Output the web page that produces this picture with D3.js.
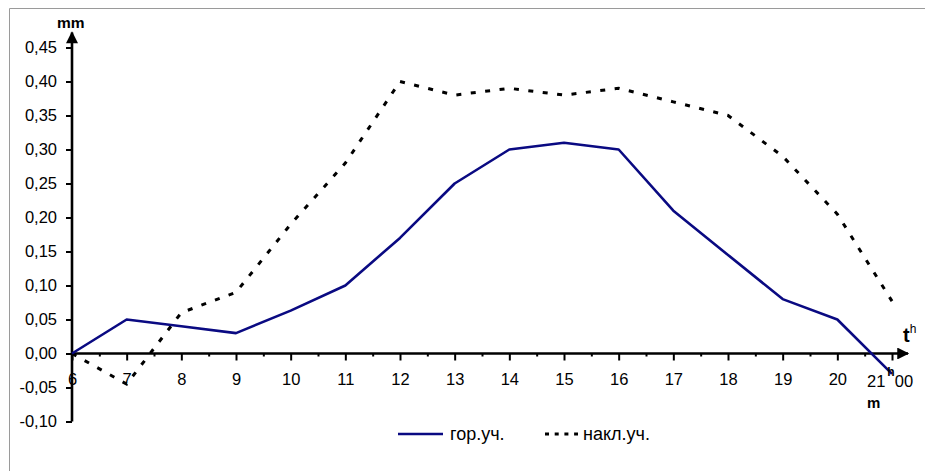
<!DOCTYPE html>
<html>
<head>
<meta charset="utf-8">
<script src="https://cdn.jsdelivr.net/npm/d3@7/dist/d3.min.js"></script>
<style>
  html, body { margin: 0; padding: 0; background: #fff; }
  svg { display: block; font-family: "Liberation Sans", Arial, sans-serif; }
</style>
</head>
<body>
<svg id="chart" width="925" height="471"></svg>
<script>
// Hours of the day (category axis) and measured displacements, mm
const hours = [6, 7, 8, 9, 10, 11, 12, 13, 14, 15, 16, 17, 18, 19, 20, 21];
const gorUch = [0.00, 0.05, 0.04, 0.03, 0.063, 0.10, 0.17, 0.25, 0.30, 0.31, 0.30, 0.21, 0.145, 0.08, 0.05, -0.03];
const naklUch = [0.00, -0.045, 0.06, 0.09, 0.19, 0.28, 0.40, 0.38, 0.39, 0.38, 0.39, 0.37, 0.35, 0.29, 0.205, 0.077];
const yTicks = [-0.10, -0.05, 0.00, 0.05, 0.10, 0.15, 0.20, 0.25, 0.30, 0.35, 0.40, 0.45];
const seriesNames = ["гор.уч.", "накл.уч."];

const svg = d3.select("#chart");
const x = d3.scaleLinear().domain([6, 21]).range([72, 892]);
const y = d3.scaleLinear().domain([-0.10, 0.45]).range([421.5, 47.5]);

const ruFmt = d3.formatLocale({ decimal: ",", thousands: " ", grouping: [3], currency: ["", ""], minus: "-" }).format(".2f");

// outer frame
svg.append("path")
  .attr("d", "M9.5,471V8.5H925")
  .attr("fill", "none").attr("stroke", "#9a9a9a").attr("stroke-width", 1);

// arrow heads
const defs = svg.append("defs");
defs.append("marker").attr("id", "arrow")
  .attr("viewBox", "0 0 10 10").attr("refX", 9).attr("refY", 5)
  .attr("markerWidth", 5.6).attr("markerHeight", 4.6).attr("markerUnits", "strokeWidth")
  .attr("orient", "auto")
  .append("path").attr("d", "M0,0L10,5L0,10Z").attr("fill", "#000");

// y axis
const yAxis = svg.append("g").attr("transform", `translate(${x(6)},0)`)
  .call(d3.axisLeft(y).tickValues(yTicks).tickSize(6).tickSizeOuter(0).tickPadding(9).tickFormat(ruFmt));
yAxis.select(".domain").remove();
yAxis.selectAll(".tick line").attr("stroke", "#000").attr("stroke-width", 2);
yAxis.selectAll(".tick text").attr("font-size", 16.5).attr("fill", "#000")
  .attr("font-family", "Liberation Sans, Arial, sans-serif");

// x axis: major ticks with labels, minor ticks on the half hours
const xMain = hours.slice(0, -1);
const xAxis = svg.append("g").attr("transform", `translate(0,${y(0)})`)
  .call(d3.axisBottom(x).tickValues(hours).tickSize(7).tickSizeOuter(0).tickPadding(13)
    .tickFormat(d => xMain.includes(d) ? String(d) : ""));
xAxis.select(".domain").remove();
xAxis.selectAll(".tick line").attr("stroke", "#000").attr("stroke-width", 2);
xAxis.selectAll(".tick text").attr("font-size", 16.5).attr("fill", "#000")
  .attr("font-family", "Liberation Sans, Arial, sans-serif");

const xMinor = svg.append("g").attr("transform", `translate(0,${y(0)})`)
  .call(d3.axisBottom(x).tickValues(d3.range(6.5, 21, 1)).tickSize(3).tickSizeOuter(0).tickFormat(""));
xMinor.select(".domain").remove();
xMinor.selectAll(".tick line").attr("stroke", "#000").attr("stroke-width", 2);

// axis lines with arrows
svg.append("line")
  .attr("x1", x(6)).attr("y1", y(0)).attr("x2", x(21) + 16).attr("y2", y(0))
  .attr("stroke", "#000").attr("stroke-width", 2.6).attr("marker-end", "url(#arrow)");
svg.append("line")
  .attr("x1", x(6)).attr("y1", y(-0.10)).attr("x2", x(6)).attr("y2", y(0.45) - 15)
  .attr("stroke", "#000").attr("stroke-width", 2.6).attr("marker-end", "url(#arrow)");

// series lines
const line = d3.line().x((d, i) => x(hours[i])).y(d => y(d));
svg.append("path").datum(naklUch)
  .attr("d", line).attr("fill", "none").attr("stroke", "#000")
  .attr("stroke-width", 3).attr("stroke-dasharray", "5 9.5");
svg.append("path").datum(gorUch)
  .attr("d", line).attr("fill", "none").attr("stroke", "#0a0a82")
  .attr("stroke-width", 2.6).attr("stroke-linejoin", "round");

// axis captions
svg.append("text").attr("x", 57).attr("y", 28).attr("font-size", 15.5).attr("font-weight", "bold").text("mm");
const tCap = svg.append("text").attr("x", 903).attr("y", 342).attr("font-size", 20).attr("font-weight", "bold");
tCap.append("tspan").text("t");
tCap.append("tspan").attr("font-size", 12).attr("font-weight", "normal").attr("dy", -9).text("h");

const endLabel = svg.append("text").attr("x", 867).attr("y", 387).attr("font-size", 16.5);
endLabel.append("tspan").text(String(hours[hours.length - 1]));
endLabel.append("tspan").attr("font-size", 12).attr("font-weight", "bold").attr("dy", -11).attr("dx", 2).text("h");
endLabel.append("tspan").attr("dy", 11).text("00");
svg.append("text").attr("x", 867).attr("y", 408).attr("font-size", 15).attr("font-weight", "bold").text("m");

// legend
const lg = svg.append("g");
lg.append("line").attr("x1", 398).attr("x2", 443).attr("y1", 434).attr("y2", 434)
  .attr("stroke", "#0a0a82").attr("stroke-width", 2.6);
lg.append("text").attr("x", 450).attr("y", 440).attr("font-size", 18).text(seriesNames[0]);
lg.append("line").attr("x1", 545).attr("x2", 578).attr("y1", 434).attr("y2", 434)
  .attr("stroke", "#000").attr("stroke-width", 3).attr("stroke-dasharray", "4 5.7");
lg.append("text").attr("x", 583).attr("y", 440).attr("font-size", 18).text(seriesNames[1]);
</script>
</body>
</html>
